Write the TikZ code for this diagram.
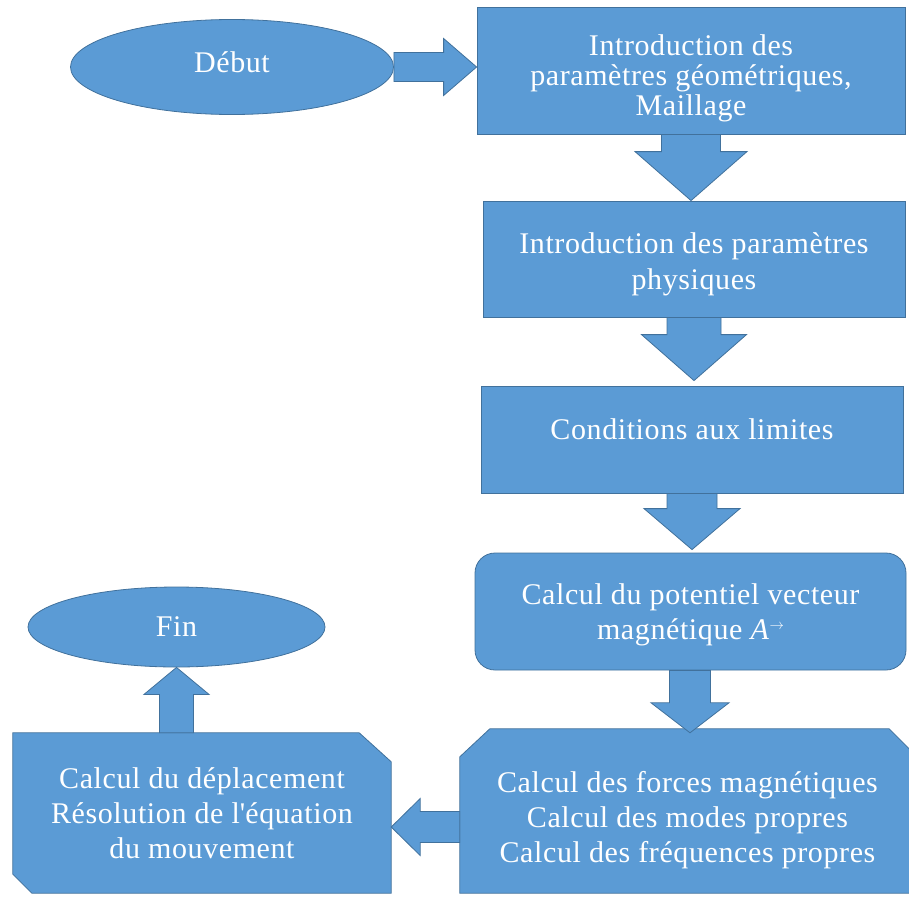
\documentclass[tikz,border=0pt]{standalone}
\usepackage{fontspec}
\setmainfont{Liberation Serif}[LetterSpace=2]
\usetikzlibrary{shapes.geometric,calc,backgrounds}

\definecolor{boxfill}{HTML}{5B9BD5}
\definecolor{boxline}{HTML}{41719C}

\tikzset{
  flow/.style={fill=boxfill, draw=boxline, line width=0.8pt},
  label/.style={text=white, font=\fontsize{30}{35}\selectfont, align=center},
  stepbox/.style={flow, label, rectangle, inner sep=0pt},
  roundbox/.style={stepbox, rounded corners=20pt},
  endpoint/.style={flow, label, ellipse, inner sep=0pt},
  textonly/.style={label, rectangle, inner sep=0pt},
  blockarrow/.style={flow, line join=miter}
}

% Block arrow from #1 (tail) to #2 (tip):
% #3 half shaft width, #4 half head width, #5 head length
\newcommand\flowarrow[5]{%
  \coordinate (fa-base) at ($(#2)!#5!(#1)$);
  \draw[blockarrow]
    ($(#1)!#3!90:(#2)$) -- ($(fa-base)!#3!90:(#2)$) -- ($(fa-base)!#4!90:(#2)$)
    -- (#2)
    -- ($(fa-base)!#4!-90:(#2)$) -- ($(fa-base)!#3!-90:(#2)$) -- ($(#1)!#3!-90:(#2)$)
    -- cycle;}

\begin{document}
\begin{tikzpicture}[x=1pt, y=-1pt]
\useasboundingbox (0,0) rectangle (909,899);

% start and end
\node[endpoint, minimum width=323pt, minimum height=95pt, text depth=10pt] (debut) at (232,67) {Début};
\node[endpoint, minimum width=297pt, minimum height=80pt] (fin) at (176.5,627) {Fin};

% processing steps
\node[stepbox, minimum width=428pt, minimum height=127pt, font=\fontsize{30}{30}\selectfont,
      text height=96pt, text depth=6.5pt] (r1) at (691,70.5)
  {Introduction des\\paramètres géométriques,\\Maillage};
\node[stepbox, minimum width=422pt, minimum height=116pt, font=\fontsize{30}{36}\selectfont,
      text height=68pt, text depth=6.5pt] (r2) at (694,259)
  {Introduction des paramètres\\physiques};
\node[stepbox, minimum width=422pt, minimum height=107pt, text depth=20pt] (r3) at (692,439.5)
  {Conditions aux limites};
\node[roundbox, minimum width=431pt, minimum height=117pt,
      text height=61.5pt, text depth=6.5pt] (r4) at (690.5,611.5)
  {Calcul du potentiel vecteur\\magnétique \textit{A}\raisebox{0.7ex}{$\scriptscriptstyle\rightarrow$}};
\node[textonly, minimum width=455pt, minimum height=164pt,
      text height=108.5pt, text depth=6.5pt] (r5) at (687.5,811)
  {Calcul des forces magnétiques\\Calcul des modes propres\\Calcul des fréquences propres};
\node[textonly, minimum width=378pt, minimum height=160pt] (r6) at (202,813)
  {Calcul du déplacement\\Résolution de l\textquotesingle équation\\du mouvement};

% snipped outlines behind the two last steps
\begin{scope}[on background layer]
  \draw[flow] ($(r5.north west)+(30,0)$) -- ($(r5.north east)+(-26,0)$) -- ($(r5.north east)+(0,26)$)
    -- (r5.south east) -- (r5.south west) -- ($(r5.north west)+(0,28)$) -- cycle;
  \draw[flow] (r6.north west) -- ($(r6.north east)+(-32,0)$) -- ($(r6.north east)+(0,29)$)
    -- (r6.south east) -- ($(r6.south west)+(19,0)$) -- ($(r6.south west)+(0,-19)$) -- cycle;
\end{scope}

% tails and tips of the block arrows
\coordinate (t2) at (r1.south |- r2.north);
\coordinate (t3) at ($(r2.south |- r3.north)+(0,-5)$);
\coordinate (t4) at ($(r3.south |- r4.north)+(0,-3)$);
\coordinate (s5) at ($(r4.south)+(-0.5,0)$);
\coordinate (t5) at ($(s5 |- r5.north)+(0,4)$);
\coordinate (s6) at ($(r5.west)+(0,16)$);
\coordinate (t6) at (r6.east |- s6);
\coordinate (s7) at (fin.south |- r6.north);

\flowarrow{debut.east}{r1.west |- debut.east}{14.5pt}{28.5pt}{33pt}
\flowarrow{r1.south}{t2}{29.5pt}{56pt}{49pt}
\flowarrow{r2.south}{t3}{27pt}{52.5pt}{46pt}
\flowarrow{r3.south}{t4}{25pt}{48pt}{41pt}
\flowarrow{s5}{t5}{20.5pt}{39pt}{30pt}
\flowarrow{s6}{t6}{15.5pt}{28.5pt}{29pt}
\flowarrow{s7}{fin.south}{17pt}{32.5pt}{27pt}
\end{tikzpicture}
\end{document}
